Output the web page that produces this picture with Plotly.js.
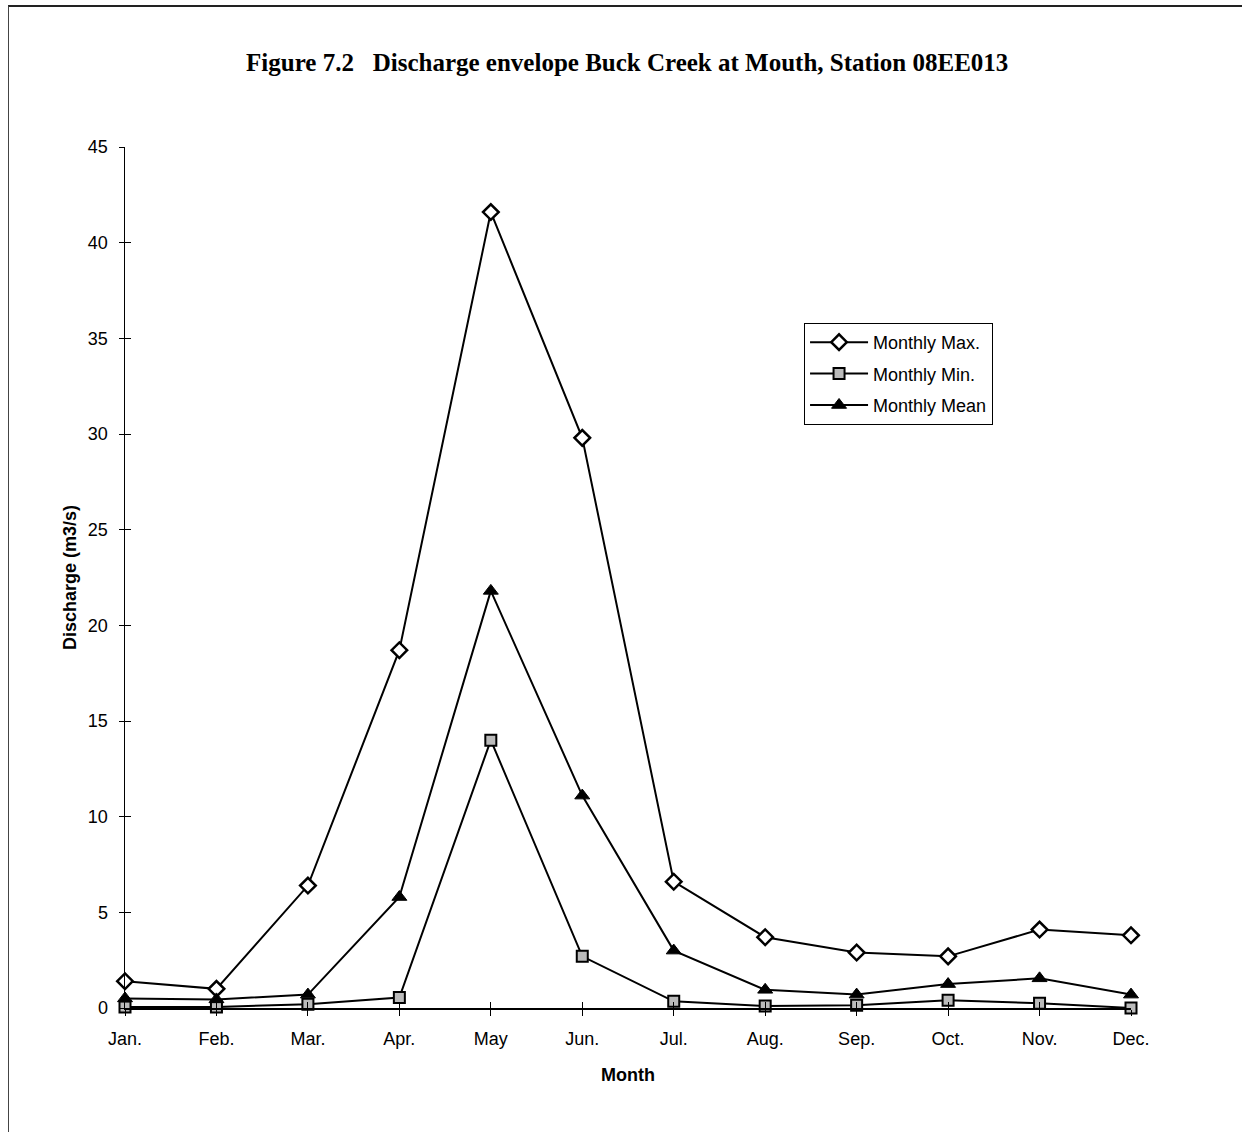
<!DOCTYPE html>
<html>
<head>
<meta charset="utf-8">
<script src="https://cdn.plot.ly/plotly-3.0.1.min.js"></script>
<style>
html,body{margin:0;padding:0;background:#fff;}
#wrap{position:relative;width:1242px;height:1132px;}
#chart{position:absolute;left:0;top:0;width:1242px;height:1132px;}
#frame{position:absolute;left:8px;top:5px;width:1234px;height:1125px;border-top:2px solid #222;border-left:1.5px solid #444;pointer-events:none;}
</style>
</head>
<body>
<div id="wrap"><div id="chart"></div><div id="frame"></div></div>
<script>
var months = ["Jan.","Feb.","Mar.","Apr.","May","Jun.","Jul.","Aug.","Sep.","Oct.","Nov.","Dec."];
var monthlyMax  = [1.4, 1.0, 6.4, 18.7, 41.6, 29.8, 6.6, 3.7, 2.9, 2.7, 4.1, 3.8];
var monthlyMin  = [0.05, 0.05, 0.2, 0.55, 14.0, 2.7, 0.35, 0.1, 0.15, 0.4, 0.25, 0.0];
var monthlyMean = [0.5, 0.45, 0.7, 5.8, 21.8, 11.1, 3.0, 0.95, 0.7, 1.25, 1.55, 0.7];

var font = "Liberation Sans, Arial, sans-serif";

var traces = [
  {x: months, y: monthlyMax, name: "Monthly Max.", legendgroup: "a", type: "scatter", mode: "lines+markers",
   cliponaxis: false, line: {color: "#000", width: 2},
   marker: {symbol: "diamond", size: 12, color: "#fff", line: {color: "#000", width: 2.5}}},
  {x: months, y: monthlyMin, name: "Monthly Min.", legendgroup: "b", type: "scatter", mode: "lines+markers",
   cliponaxis: false, line: {color: "#000", width: 2},
   marker: {symbol: "square", size: 11, color: "#bbb", line: {color: "#000", width: 2}}},
  {x: months, y: monthlyMean, name: "Monthly Mean", legendgroup: "c", type: "scatter", mode: "lines+markers",
   cliponaxis: false, line: {color: "#000", width: 2},
   marker: {symbol: "triangle-up", size: 13, color: "#000", line: {color: "#000", width: 1}}},
  {x: months, y: monthlyMax, xaxis: "x2", yaxis: "y2", type: "scatter", mode: "none",
   showlegend: false, hoverinfo: "skip"}
];

var layout = {
  width: 1242, height: 1132,
  paper_bgcolor: "#fff", plot_bgcolor: "#fff",
  margin: {l: 125, r: 111, t: 147, b: 124},
  title: {text: "<b>Figure 7.2   Discharge envelope Buck Creek at Mouth, Station 08EE013</b>",
          font: {family: "Liberation Serif, Times New Roman, serif", size: 25, color: "#000"},
          x: 0.505, xanchor: "center", y: 0.945, yanchor: "middle"},
  xaxis: {type: "category", range: [0, 11], showgrid: false, zeroline: false,
          showline: true, linecolor: "#000", linewidth: 1.5,
          ticks: "outside", ticklen: 6, tickcolor: "#000", tickwidth: 1,
          ticklabelstandoff: 8,
          tickfont: {family: font, size: 18, color: "#000"},
          title: {text: "<b>Month</b>", font: {family: font, size: 18, color: "#000"}, standoff: 20}},
  yaxis: {range: [0, 45], dtick: 5, showgrid: false, zeroline: false,
          showline: true, linecolor: "#000", linewidth: 1.5,
          ticks: "outside", ticklen: 5, tickcolor: "#000", tickwidth: 1,
          ticklabelstandoff: 7,
          tickfont: {family: font, size: 18, color: "#000"},
          title: {text: "<b>Discharge (m3/s)</b>", font: {family: font, size: 18, color: "#000"}, standoff: 6}},
  xaxis2: {type: "category", overlaying: "x", range: [0, 11], showgrid: false, zeroline: false,
           showline: false, showticklabels: false, ticks: "inside", ticklen: 6, tickcolor: "#000", tickwidth: 1},
  yaxis2: {overlaying: "y", range: [0, 45], dtick: 5, showgrid: false, zeroline: false,
           showline: false, showticklabels: false, ticks: "inside", ticklen: 6, tickcolor: "#000", tickwidth: 1},
  showlegend: true,
  legend: {x: 0.675, xanchor: "left", y: 0.7956, yanchor: "top",
           bgcolor: "#fff", bordercolor: "#000", borderwidth: 1,
           font: {family: font, size: 18, color: "#000"},
           tracegroupgap: 5, itemwidth: 58}
};

Plotly.newPlot("chart", traces, layout, {displayModeBar: false, staticPlot: true});
</script>
</body>
</html>
